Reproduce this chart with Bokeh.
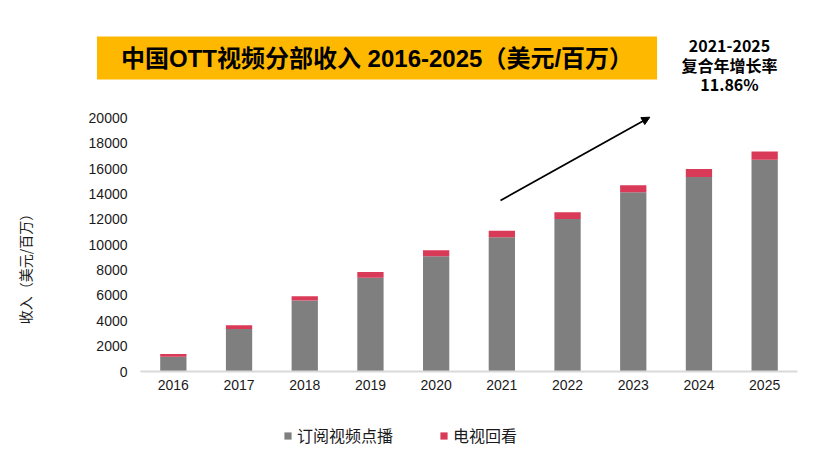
import math
from bokeh.plotting import figure
from bokeh.layouts import column
from bokeh.models import (Range1d, FixedTicker, Label, Arrow, NormalHead, Legend, LegendItem)
from bokeh.embed import file_html
from bokeh.resources import INLINE

years = [2016, 2017, 2018, 2019, 2020, 2021, 2022, 2023, 2024, 2025]
svod = [1160, 3360, 5590, 7400, 9090, 10580, 12020, 14130, 15330, 16690]
catchup = [210, 290, 350, 450, 470, 520, 530, 550, 630, 660]
series_names = ["订阅视频点播", "电视回看"]
colors = ["#7F7F7F", "#D93A57"]
y_ticks = list(range(0, 20001, 2000))
title_text = "中国OTT视频分部收入 2016-2025（美元/百万）"
note_lines = ["2021-2025", "复合年增长率", "11.86%"]
y_label_text = "收入（美元/百万）"

data = {"year": years, "svod": svod, "catchup": catchup}

# pixel layout helpers (frame: x 90..797, y 0..371; 20000 sits at y=117)
PX_PER_YEAR = 65.7
FRAME_L, AXIS_L, FRAME_R = 90, 140, 797
X0 = years[0] - 0.5 - (AXIS_L - FRAME_L) / PX_PER_YEAR
X1 = years[-1] + 0.5
Y_TOP = 371 / 253.7 * 20000

def xdata(sx):
    return years[0] - 0.5 + (sx - AXIS_L) / PX_PER_YEAR

def ydata(sy):
    return (371 - sy) / 253.7 * 20000

p = figure(width=832, height=400, x_range=Range1d(X0, X1), y_range=Range1d(0, Y_TOP),
           output_backend="svg", toolbar_location=None,
           min_border_left=FRAME_L, min_border_right=832 - FRAME_R, min_border_top=0,
           min_border_bottom=29)
p.outline_line_color = None
p.xgrid.grid_line_color = None
p.ygrid.grid_line_color = None
p.background_fill_color = "white"

rs = p.vbar_stack(["svod", "catchup"], x="year", width=0.4, color=colors, source=data,
                  line_color=None)

# y axis: labels right-aligned at x=127, drawn to the right of the frame edge
p.yaxis.ticker = FixedTicker(ticks=y_ticks)
p.yaxis.axis_line_color = None
p.yaxis.major_tick_line_color = None
p.yaxis.minor_tick_line_color = None
p.yaxis.major_tick_out = 0
p.yaxis.major_tick_in = 0
p.yaxis.major_label_standoff = -(127 - FRAME_L)
p.yaxis.major_label_text_font = "Liberation Sans"
p.yaxis.major_label_text_font_size = "14px"
p.yaxis.major_label_text_color = "#1a1a1a"

p.xaxis.ticker = FixedTicker(ticks=years)
p.xaxis.bounds = (years[0] - 0.5, years[-1] + 0.5)
p.xaxis.axis_line_color = "#D9D9D9"
p.xaxis.axis_line_width = 2
p.xaxis.major_tick_line_color = None
p.xaxis.minor_tick_line_color = None
p.xaxis.major_tick_out = 0
p.xaxis.major_tick_in = 0
p.xaxis.major_label_standoff = 8
p.xaxis.major_label_text_font = "Liberation Sans"
p.xaxis.major_label_text_font_size = "14px"
p.xaxis.major_label_text_color = "#1a1a1a"

cjk = "'Liberation Sans', 'Noto Sans CJK SC'"

# title box
p.add_layout(Label(x=xdata(376.5), y=ydata(57.5), text=title_text, text_align="center",
                   text_baseline="middle", text_font=cjk, text_font_size="24px",
                   text_font_style="bold", text_color="black",
                   background_fill_color="#FFB800", background_fill_alpha=1.0,
                   padding=dict(left=24, right=24, top=8, bottom=8)))

# CAGR note
for txt, sy in zip(note_lines, [45, 64, 83.3]):
    p.add_layout(Label(x=xdata(729), y=ydata(sy), text=txt, text_align="center",
                       text_baseline="middle", text_font="Noto Sans CJK SC",
                       text_font_size="16px", text_font_style="bold", text_color="black"))

# arrow
p.add_layout(Arrow(x_start=xdata(500), y_start=ydata(200), x_end=xdata(649.3),
                   y_end=ydata(116.7), line_color="black", line_width=1.8,
                   end=NormalHead(size=8, fill_color="black", line_color="black")))

# y axis label in the left panel
p.add_layout(Label(x=-41, y=106, x_units="screen", y_units="screen", text=y_label_text,
                   angle=math.pi / 2, text_align="center", text_baseline="middle",
                   text_font="Noto Sans CJK SC", text_font_size="14px", text_color="#1a1a1a"),
             "left")

# legend strip below the chart
q = figure(width=832, height=56, x_range=p.x_range, y_range=Range1d(0, 1),
           output_backend="svg", toolbar_location=None, x_axis_location=None,
           y_axis_location=None, min_border_left=FRAME_L, min_border_right=832 - FRAME_R,
           min_border_top=0, min_border_bottom=0)
q.outline_line_color = None
q.xgrid.grid_line_color = None
q.ygrid.grid_line_color = None
lr = q.vbar_stack(["svod", "catchup"], x="year", width=0.4, color=colors, source=data,
                  line_color=None)
for r in lr:
    r.visible = False
legend = Legend(items=[LegendItem(label=series_names[0], renderers=[lr[0]]),
                       LegendItem(label=series_names[1], renderers=[lr[1]])],
                orientation="horizontal", location=(283 - FRAME_L, 9),
                glyph_width=9, glyph_height=9, label_standoff=5, spacing=46,
                padding=0, margin=0, border_line_color=None, background_fill_alpha=0,
                inactive_fill_alpha=0,
                label_text_font="Noto Sans CJK SC", label_text_font_size="16px",
                label_text_color="#1a1a1a", label_height=20)
q.add_layout(legend, "center")

layout = column(p, q, spacing=0)
open("out.html", "w").write(file_html(layout, INLINE))
